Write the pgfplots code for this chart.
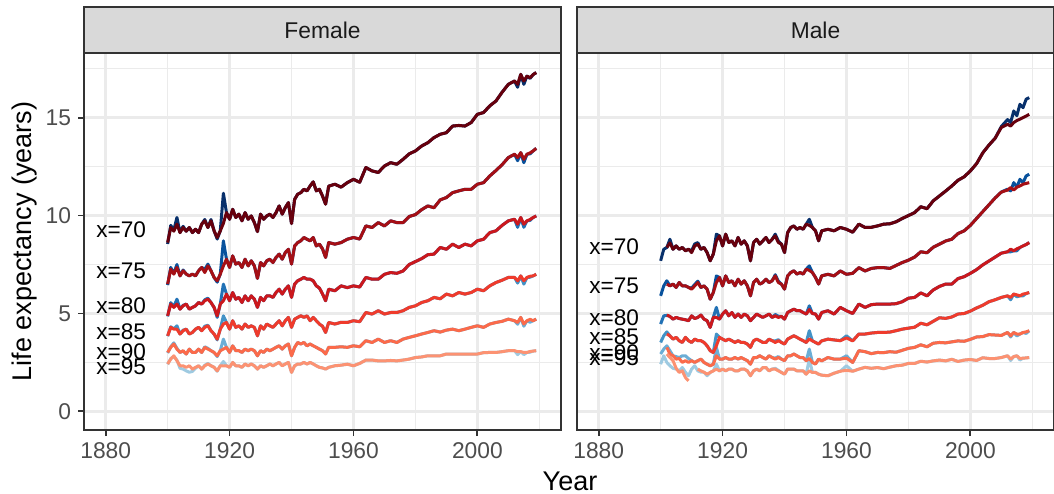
\documentclass[border=0pt]{standalone}
\usepackage{fontspec}
\setmainfont{Liberation Sans}
\usepackage{pgfplots}
\usepackage{pgfplotstable}
\pgfplotsset{compat=1.18}

% Blues / Reds ramps, one shade per age
\definecolor{bA}{HTML}{08306B}\definecolor{rA}{HTML}{67000D}
\definecolor{bB}{HTML}{08519C}\definecolor{rB}{HTML}{A50F15}
\definecolor{bC}{HTML}{2171B5}\definecolor{rC}{HTML}{CB181D}
\definecolor{bD}{HTML}{4292C6}\definecolor{rD}{HTML}{EF3B2C}
\definecolor{bE}{HTML}{6BAED6}\definecolor{rE}{HTML}{FB6A4A}
\definecolor{bF}{HTML}{9ECAE1}\definecolor{rF}{HTML}{FC9272}
\definecolor{gridc}{HTML}{EBEBEB}
\definecolor{frame}{HTML}{333333}
\definecolor{ticktext}{HTML}{4D4D4D}
\definecolor{stripfill}{HTML}{D9D9D9}
\definecolor{striptext}{HTML}{1A1A1A}

\newcommand\ticksize{\fontsize{11.4}{13}\selectfont}
\newcommand\titlesize{\fontsize{13.5}{16}\selectfont}
\newcommand\labsize{\fontsize{11.3}{13}\selectfont}

% columns: year, then observed (b) and fitted (r) remaining life expectancy at ages 70..95
\pgfplotstableread{
year b70 r70 b75 r75 b80 r80 b85 r85 b90 r90 b95 r95
1900 8.55 8.62 6.45 6.50 4.85 4.88 3.84 3.86 2.98 3.01 2.40 2.42
1901 9.50 9.39 7.35 7.26 5.55 5.48 4.32 4.29 3.30 3.27 2.70 2.67
1902 9.25 9.20 7.05 7.01 5.35 5.31 4.22 4.20 3.50 3.44 2.80 2.84
1903 9.90 9.56 7.50 7.35 5.73 5.48 4.37 4.20 3.22 3.18 2.62 2.59
1904 9.13 9.13 6.92 6.92 5.22 5.22 3.95 3.95 3.01 3.01 2.20 2.33
1905 9.45 9.39 7.22 7.18 5.42 5.39 4.15 4.12 3.08 3.10 2.16 2.33
1906 9.20 9.20 7.01 7.01 5.48 5.48 4.20 4.20 2.93 2.93 2.07 2.25
1907 9.39 9.39 6.92 6.92 5.22 5.22 3.95 3.95 3.18 3.18 2.00 2.33
1908 9.13 9.13 7.01 7.01 5.31 5.31 4.03 4.03 3.01 3.01 2.04 2.16
1909 9.30 9.30 6.92 6.92 5.39 5.39 4.20 4.20 3.01 3.01 2.20 2.25
1910 9.13 9.13 7.18 7.18 5.56 5.56 4.29 4.29 3.18 3.18 2.33 2.33
1911 9.56 9.56 7.35 7.35 5.48 5.48 4.12 4.12 3.01 3.01 2.16 2.16
1912 9.80 9.73 7.25 7.09 5.70 5.65 4.35 4.29 3.30 3.27 2.36 2.33
1913 9.39 9.39 7.52 7.43 5.78 5.73 4.40 4.37 3.22 3.18 2.45 2.42
1914 9.80 9.73 7.18 7.18 5.56 5.56 4.12 4.12 3.10 3.10 2.33 2.33
1915 9.22 9.22 6.84 6.84 5.31 5.31 3.95 3.95 3.01 3.01 2.25 2.25
1916 8.80 8.88 6.60 6.67 4.80 4.88 3.65 3.69 2.80 2.84 2.05 2.07
1917 9.22 9.22 7.01 7.01 5.48 5.48 4.20 4.20 3.10 3.10 2.33 2.33
1918 11.14 9.60 8.71 7.43 6.50 5.65 4.88 4.46 3.69 3.18 2.55 2.33
1919 10.15 10.15 7.77 7.77 5.99 5.99 4.54 4.54 3.27 3.27 2.33 2.33
1920 9.81 9.81 7.35 7.35 5.65 5.65 4.20 4.20 3.01 3.01 2.25 2.25
1921 10.32 10.32 7.94 7.94 6.07 6.07 4.63 4.63 3.35 3.35 2.50 2.50
1922 9.90 9.90 7.52 7.52 5.73 5.73 4.29 4.29 3.10 3.10 2.33 2.33
1923 10.07 10.07 7.60 7.60 5.82 5.82 4.37 4.37 3.10 3.10 2.33 2.33
1924 9.73 9.73 7.35 7.35 5.56 5.56 4.20 4.20 3.01 3.01 2.25 2.25
1925 10.15 10.15 7.77 7.77 5.90 5.90 4.46 4.46 3.18 3.18 2.42 2.42
1926 9.81 9.81 7.43 7.43 5.65 5.65 4.29 4.29 3.10 3.10 2.33 2.33
1927 9.98 9.98 7.69 7.69 5.90 5.90 4.37 4.37 3.18 3.18 2.42 2.42
1928 9.64 9.64 7.43 7.43 5.73 5.73 4.29 4.29 3.10 3.10 2.33 2.33
1929 9.18 9.18 6.79 6.79 5.31 5.31 3.86 3.86 2.84 2.84 2.16 2.16
1930 10.07 10.07 7.60 7.60 5.82 5.82 4.37 4.37 3.10 3.10 2.33 2.33
1931 9.81 9.81 7.43 7.43 5.65 5.65 4.20 4.20 3.01 3.01 2.25 2.25
1932 9.98 9.98 7.69 7.69 5.90 5.90 4.46 4.46 3.18 3.18 2.33 2.33
1933 10.07 10.07 7.77 7.77 5.90 5.90 4.37 4.37 3.10 3.10 2.42 2.42
1934 9.90 9.90 7.60 7.60 5.82 5.82 4.29 4.29 3.18 3.18 2.33 2.33
1935 10.15 10.15 7.86 7.86 6.07 6.07 4.46 4.46 3.27 3.27 2.42 2.42
1936 10.49 10.49 8.03 8.03 6.24 6.24 4.63 4.63 3.35 3.35 2.50 2.50
1937 10.07 10.07 7.77 7.77 5.99 5.99 4.37 4.37 3.18 3.18 2.33 2.33
1938 10.41 10.41 8.11 8.11 6.24 6.24 4.63 4.63 3.35 3.35 2.42 2.42
1939 10.66 10.66 8.28 8.28 6.41 6.41 4.80 4.80 3.44 3.44 2.50 2.50
1940 9.59 9.59 7.52 7.52 5.82 5.82 4.29 4.29 2.84 2.84 1.99 1.99
1941 10.83 10.83 8.45 8.45 6.50 6.50 4.71 4.71 3.27 3.27 2.33 2.33
1942 11.09 11.09 8.62 8.62 6.67 6.67 4.80 4.80 3.52 3.52 2.42 2.42
1943 11.17 11.17 8.71 8.71 6.75 6.75 4.88 4.88 3.44 3.44 2.42 2.42
1944 11.34 11.34 8.88 8.88 6.84 6.84 4.80 4.80 3.52 3.52 2.50 2.50
1945 11.26 11.26 8.79 8.79 6.75 6.75 4.88 4.88 3.35 3.35 2.42 2.42
1946 11.51 11.51 8.71 8.71 6.75 6.75 4.63 4.63 3.44 3.44 2.50 2.50
1947 11.72 11.72 8.88 8.88 6.67 6.67 4.80 4.80 3.35 3.35 2.42 2.42
1948 11.26 11.26 8.45 8.45 6.41 6.41 4.63 4.63 3.27 3.27 2.33 2.33
1949 11.34 11.34 8.54 8.54 6.30 6.30 4.46 4.46 3.18 3.18 2.25 2.25
1950 11.00 11.00 8.30 8.30 6.00 6.00 4.35 4.35 3.10 3.10 2.22 2.22
1951 10.58 10.58 7.86 7.86 5.65 5.65 4.03 4.03 2.93 2.93 2.16 2.16
1952 11.50 11.50 8.62 8.62 6.24 6.24 4.54 4.54 3.27 3.27 2.25 2.25
1954 11.60 11.60 8.54 8.54 6.16 6.16 4.46 4.46 3.27 3.27 2.33 2.33
1956 11.45 11.45 8.62 8.62 6.41 6.41 4.55 4.55 3.30 3.30 2.36 2.36
1958 11.68 11.68 8.79 8.79 6.32 6.32 4.54 4.54 3.27 3.27 2.41 2.41
1960 11.85 11.85 8.88 8.88 6.41 6.41 4.63 4.63 3.35 3.35 2.33 2.33
1962 11.70 11.70 8.80 8.80 6.35 6.35 4.58 4.58 3.30 3.30 2.45 2.45
1964 12.45 12.45 9.47 9.47 6.84 6.84 5.05 5.05 3.61 3.61 2.62 2.62
1966 12.28 12.28 9.39 9.39 6.75 6.75 4.97 4.97 3.52 3.52 2.62 2.62
1968 12.20 12.20 9.64 9.64 6.75 6.75 5.14 5.14 3.69 3.69 2.58 2.58
1970 12.53 12.53 9.47 9.47 7.00 7.00 4.97 4.97 3.52 3.52 2.58 2.58
1972 12.70 12.70 9.73 9.73 7.09 7.09 5.05 5.05 3.61 3.61 2.60 2.60
1974 12.62 12.62 9.64 9.64 7.05 7.05 5.05 5.05 3.52 3.52 2.58 2.58
1976 12.87 12.87 9.64 9.64 7.17 7.17 5.14 5.14 3.69 3.69 2.62 2.62
1978 13.15 13.15 9.95 9.95 7.50 7.50 5.31 5.31 3.78 3.78 2.67 2.67
1980 13.30 13.30 10.05 10.05 7.65 7.65 5.39 5.39 3.86 3.86 2.75 2.75
1982 13.55 13.55 10.30 10.30 7.80 7.80 5.56 5.56 3.95 3.95 2.78 2.78
1984 13.72 13.72 10.49 10.49 8.00 8.00 5.65 5.65 4.03 4.03 2.84 2.84
1986 13.98 13.98 10.40 10.40 8.03 8.03 5.82 5.82 4.12 4.12 2.84 2.84
1988 14.15 14.15 10.80 10.80 8.37 8.37 5.75 5.75 4.05 4.05 2.84 2.84
1990 14.23 14.23 10.92 10.92 8.28 8.28 5.99 5.99 4.15 4.15 2.93 2.93
1992 14.57 14.57 11.17 11.17 8.54 8.54 5.90 5.90 4.20 4.20 2.93 2.93
1994 14.60 14.60 11.26 11.26 8.37 8.37 6.07 6.07 4.12 4.12 2.93 2.93
1996 14.57 14.57 11.34 11.34 8.54 8.54 5.99 5.99 4.20 4.20 2.93 2.93
1998 14.75 14.75 11.34 11.34 8.45 8.45 6.07 6.07 4.29 4.29 2.93 2.93
2000 15.17 15.17 11.60 11.60 8.71 8.71 6.24 6.24 4.37 4.37 2.93 2.93
2002 15.26 15.26 11.68 11.68 8.79 8.79 6.16 6.16 4.29 4.29 3.00 3.00
2004 15.60 15.60 12.02 12.02 9.13 9.13 6.41 6.41 4.46 4.46 3.01 3.01
2006 15.85 15.85 12.30 12.30 9.22 9.22 6.58 6.58 4.54 4.54 3.01 3.01
2008 16.30 16.30 12.60 12.60 9.50 9.50 6.70 6.70 4.60 4.60 3.05 3.05
2010 16.70 16.70 12.96 12.96 9.73 9.73 6.84 6.84 4.71 4.71 3.10 3.10
2012 16.87 16.87 13.13 13.13 9.81 9.81 6.84 6.84 4.63 4.63 3.10 3.10
2013 16.55 16.70 12.80 12.96 9.40 9.56 6.55 6.67 4.45 4.54 2.90 3.05
2014 17.21 17.21 13.21 13.21 9.90 9.90 6.92 6.92 4.80 4.80 3.05 3.05
2015 16.70 16.87 12.70 12.87 9.40 9.56 6.50 6.67 4.35 4.46 2.90 3.01
2016 17.12 17.12 13.13 13.13 9.73 9.73 6.84 6.84 4.63 4.63 3.01 3.01
2017 17.00 17.04 13.15 13.20 9.75 9.80 6.85 6.90 4.55 4.70 3.02 3.06
2018 17.20 17.20 13.30 13.30 9.90 9.90 6.92 6.92 4.63 4.63 3.08 3.08
2019 17.30 17.30 13.43 13.43 9.98 9.98 7.00 7.00 4.71 4.71 3.10 3.10
}\femaletab

\pgfplotstableread{
year b70 r70 b75 r75 b80 r80 b85 r85 b90 r90 b95 r95
1900 7.69 nan 5.90 nan 4.46 nan 3.52 nan 2.93 nan 2.41 nan
1901 8.28 nan 6.41 nan 4.88 nan 3.86 nan 3.18 nan 2.84 nan
1902 8.37 8.37 6.67 6.50 4.90 4.92 4.06 3.95 3.35 3.27 2.50 2.93
1903 8.79 8.60 6.41 6.41 4.85 4.85 3.86 3.86 3.10 2.93 2.33 2.75
1904 8.28 8.28 6.50 6.50 4.71 4.71 3.69 3.69 2.84 2.84 2.20 2.59
1905 8.45 8.45 6.33 6.33 4.80 4.80 3.78 3.78 2.80 2.67 2.16 2.20
1906 8.28 8.28 6.58 6.58 4.74 4.74 3.61 3.61 2.75 2.70 2.07 1.99
1907 8.37 8.37 6.41 6.41 4.71 4.71 3.52 3.52 2.84 2.50 2.24 2.07
1908 8.20 8.20 6.41 6.41 4.68 4.68 3.78 3.78 2.84 2.59 2.00 1.73
1909 8.28 8.28 6.33 6.33 4.63 4.63 3.61 3.61 2.70 2.50 1.82 1.56
1910 8.20 8.11 6.30 6.24 4.88 4.88 3.52 3.52 2.59 2.59 2.16 nan
1911 8.55 8.45 6.48 6.41 4.74 4.74 3.69 3.69 2.50 2.50 2.33 nan
1912 8.62 8.54 6.65 6.58 4.80 4.80 3.61 3.61 2.59 2.59 2.07 2.16
1913 8.28 8.28 6.33 6.33 4.92 4.92 3.61 3.61 2.67 2.67 2.00 2.07
1914 8.37 8.37 6.41 6.41 4.71 4.71 3.52 3.52 2.50 2.50 2.00 2.00
1915 8.11 8.11 6.24 6.24 4.63 4.63 3.35 3.35 2.41 2.41 1.82 1.90
1916 7.69 7.69 5.73 5.73 4.29 4.29 3.10 3.10 2.33 2.33 1.99 1.99
1917 8.03 8.03 6.07 6.07 4.80 4.80 3.01 3.01 2.41 2.41 2.07 2.07
1918 9.05 8.71 6.92 6.58 5.31 4.80 3.95 3.35 3.27 2.84 2.41 2.16
1919 8.96 8.96 6.84 6.84 4.71 4.71 3.78 3.78 2.67 2.67 2.07 2.07
1920 8.45 8.45 6.41 6.41 4.97 4.97 3.69 3.69 2.67 2.67 2.16 2.16
1921 9.05 9.05 6.92 6.92 5.14 5.14 3.61 3.61 2.75 2.75 2.07 2.07
1922 8.62 8.62 6.58 6.58 4.88 4.88 3.69 3.69 2.67 2.67 2.16 2.16
1923 8.71 8.71 6.67 6.67 5.05 5.05 3.61 3.61 2.67 2.67 2.16 2.16
1924 8.45 8.45 6.41 6.41 4.80 4.80 3.52 3.52 2.75 2.75 2.07 2.07
1925 8.88 8.88 6.75 6.75 4.97 4.97 3.61 3.61 2.67 2.67 2.07 2.07
1926 8.54 8.54 6.50 6.50 4.80 4.80 3.52 3.52 2.75 2.75 2.16 2.16
1927 8.71 8.71 6.67 6.67 4.97 4.97 3.52 3.52 2.67 2.67 2.16 2.16
1928 8.45 8.45 6.41 6.41 4.88 4.88 3.44 3.44 2.59 2.59 2.07 2.07
1929 7.69 7.69 5.90 5.90 4.63 4.63 3.27 3.27 2.41 2.41 1.82 1.82
1930 8.62 8.62 6.58 6.58 4.80 4.80 3.61 3.61 2.75 2.75 2.07 2.07
1931 8.79 8.79 6.75 6.75 4.97 4.97 3.69 3.69 2.75 2.75 2.16 2.16
1932 8.54 8.54 6.50 6.50 4.88 4.88 3.61 3.61 2.84 2.84 2.07 2.07
1933 8.71 8.71 6.58 6.58 4.80 4.80 3.52 3.52 2.75 2.75 2.24 2.24
1934 8.88 8.88 6.75 6.75 4.88 4.88 3.52 3.52 2.67 2.67 2.24 2.24
1935 8.62 8.62 6.58 6.58 4.97 4.97 3.69 3.69 2.84 2.84 2.07 2.07
1936 8.79 8.79 6.67 6.67 4.80 4.80 3.61 3.61 2.75 2.75 2.16 2.16
1937 9.05 8.96 6.98 6.92 4.95 4.88 3.60 3.52 2.72 2.67 2.20 2.16
1938 8.70 8.62 6.65 6.58 4.86 4.80 3.66 3.61 2.80 2.75 2.10 2.07
1939 8.54 8.54 6.50 6.50 4.85 4.85 3.52 3.52 2.67 2.67 1.99 1.99
1940 8.11 8.11 6.24 6.24 4.71 4.71 3.44 3.44 2.59 2.59 1.90 1.90
1941 9.13 9.13 6.92 6.92 5.05 5.05 3.69 3.69 2.84 2.84 2.16 2.16
1942 9.39 9.39 7.09 7.09 5.14 5.14 3.78 3.78 2.84 2.84 2.16 2.16
1943 9.47 9.47 7.18 7.18 5.22 5.22 3.86 3.86 2.93 2.93 2.16 2.16
1944 9.30 9.30 7.01 7.01 5.14 5.14 3.78 3.78 2.84 2.84 2.07 2.07
1945 9.39 9.39 7.09 7.09 5.14 5.14 3.69 3.69 2.75 2.75 2.07 2.07
1946 9.30 9.30 7.01 7.01 5.05 5.05 3.61 3.61 2.75 2.75 2.07 2.07
1947 9.56 9.56 7.26 7.26 4.97 4.97 3.52 3.52 2.59 2.59 1.90 1.90
1948 9.81 9.50 7.43 7.20 5.39 5.20 4.12 3.70 3.18 2.70 2.67 2.07
1949 9.39 9.39 7.09 7.09 5.00 5.00 3.60 3.60 2.50 2.50 1.99 1.99
1950 9.22 9.22 6.84 6.84 4.97 4.97 3.52 3.52 2.42 2.42 1.99 1.99
1951 8.71 8.71 6.50 6.50 4.71 4.71 3.44 3.44 2.67 2.67 1.90 1.90
1952 9.22 9.22 6.92 6.92 5.05 5.05 3.60 3.60 2.58 2.58 1.85 1.85
1954 9.30 9.30 7.00 7.00 5.14 5.14 3.69 3.69 2.75 2.75 1.82 1.82
1956 9.22 9.22 6.92 6.92 4.97 4.97 3.65 3.65 2.67 2.67 1.95 1.95
1958 9.39 9.39 7.17 7.17 5.31 5.31 3.61 3.61 2.67 2.67 2.05 2.05
1960 9.30 9.30 7.00 7.00 5.14 5.14 3.86 3.75 2.84 2.72 2.33 2.10
1962 9.15 9.15 7.05 7.05 5.00 5.00 3.60 3.60 2.50 2.50 2.05 2.05
1964 9.56 9.56 7.34 7.34 5.48 5.48 3.95 3.95 3.10 3.10 2.16 2.16
1966 9.39 9.39 7.17 7.17 5.31 5.31 3.95 3.95 3.05 3.05 2.25 2.25
1968 9.40 9.40 7.30 7.30 5.45 5.45 4.00 4.00 2.95 2.95 2.20 2.20
1970 9.47 9.47 7.34 7.34 5.48 5.48 4.03 4.03 3.01 3.01 2.24 2.24
1972 9.56 9.56 7.34 7.34 5.48 5.48 4.03 4.03 3.00 3.00 2.18 2.18
1974 9.58 9.58 7.30 7.30 5.48 5.48 4.05 4.05 3.05 3.05 2.26 2.26
1976 9.68 9.68 7.45 7.45 5.50 5.50 4.12 4.12 3.02 3.02 2.33 2.33
1978 9.85 9.85 7.60 7.60 5.60 5.60 4.20 4.20 3.12 3.12 2.36 2.36
1980 10.00 10.00 7.72 7.72 5.78 5.78 4.25 4.25 3.22 3.22 2.45 2.45
1982 10.15 10.15 7.88 7.88 5.82 5.82 4.30 4.30 3.27 3.27 2.45 2.45
1984 10.45 10.45 8.15 8.15 6.05 6.05 4.50 4.50 3.40 3.40 2.56 2.56
1986 10.35 10.35 8.10 8.10 5.90 5.90 4.42 4.42 3.30 3.30 2.52 2.52
1988 10.75 10.75 8.38 8.38 6.20 6.20 4.60 4.60 3.48 3.48 2.58 2.58
1990 11.00 11.00 8.54 8.54 6.38 6.38 4.78 4.78 3.52 3.52 2.62 2.62
1992 11.25 11.25 8.70 8.70 6.50 6.50 4.75 4.75 3.50 3.50 2.58 2.58
1994 11.51 11.51 8.79 8.79 6.50 6.50 4.82 4.82 3.55 3.55 2.66 2.66
1996 11.80 11.80 9.08 9.08 6.78 6.78 4.97 4.97 3.60 3.60 2.55 2.55
1998 11.98 11.98 9.22 9.22 6.88 6.88 5.00 5.00 3.58 3.58 2.62 2.62
2000 12.28 12.28 9.50 9.50 7.05 7.05 5.12 5.12 3.68 3.68 2.65 2.65
2002 12.65 12.65 9.85 9.85 7.24 7.24 5.28 5.28 3.80 3.80 2.60 2.60
2004 13.20 13.20 10.20 10.20 7.48 7.48 5.42 5.42 3.82 3.82 2.74 2.74
2006 13.60 13.60 10.55 10.55 7.68 7.68 5.60 5.60 3.92 3.92 2.70 2.70
2008 13.95 13.95 10.90 10.90 7.88 7.88 5.70 5.70 3.90 3.90 2.70 2.70
2010 14.55 14.50 11.20 11.20 8.08 8.08 5.82 5.82 3.88 3.88 2.75 2.75
2012 14.90 14.66 11.35 11.30 8.15 8.15 5.90 5.90 4.03 4.03 2.84 2.84
2013 14.75 14.57 11.26 11.43 8.15 8.28 5.70 5.82 3.80 3.86 2.60 2.67
2014 15.34 14.75 11.68 11.30 8.20 8.20 5.99 5.99 4.03 4.03 2.80 2.80
2015 15.10 14.85 11.45 11.45 8.20 8.30 5.85 5.95 3.85 3.95 2.84 2.84
2016 15.68 14.92 11.85 11.51 8.37 8.37 5.90 5.90 3.95 3.95 2.62 2.70
2017 15.51 15.00 11.68 11.60 8.45 8.45 5.90 5.99 4.03 4.03 2.72 2.72
2018 15.94 15.08 12.02 11.64 8.52 8.52 6.02 6.02 3.98 4.06 2.73 2.73
2019 16.02 15.17 12.11 11.68 8.62 8.62 6.07 6.07 4.12 4.12 2.75 2.75
}\maletab

\pgfplotsset{
  panel/.style={
    scale only axis, width=238.5pt, height=188.5pt,
    xmin=1873, xmax=2027, ymin=-0.95, ymax=18.3,
    xtick={1880,1920,1960,2000}, minor xtick={1900,1940,1980,2020},
    ytick={0,5,10,15}, minor ytick={2.5,7.5,12.5,17.5},
    grid=both,
    major grid style={draw=gridc, line width=1.25pt},
    minor grid style={draw=gridc, line width=0.65pt},
    axis line style={draw=frame, line width=0.9pt},
    tick align=outside, tick pos=left,
    major tick length=3pt, minor tick length=0pt,
    tick style={draw=frame, line width=0.9pt},
    ticklabel style={font=\ticksize, text=ticktext},
    /pgf/number format/assume math mode=true,
    /pgf/number format/1000 sep={},
    unbounded coords=jump,
    every axis plot/.append style={line width=1.5pt, line join=round, no marks},
  },
}
\tikzset{age/.style={font=\labsize, text=black, inner sep=0pt}}

\begin{document}
\begin{tikzpicture}
\useasboundingbox (0,0) rectangle (527pt,246.5pt);

% ---- Female panel ----
\begin{axis}[panel, name=F, at={(42pt,31.5pt)}, anchor=south west]
  \addplot[bA] table[x=year, y=b70] {\femaletab};
  \addplot[bB] table[x=year, y=b75] {\femaletab};
  \addplot[bC] table[x=year, y=b80] {\femaletab};
  \addplot[bD] table[x=year, y=b85] {\femaletab};
  \addplot[bE] table[x=year, y=b90] {\femaletab};
  \addplot[bF] table[x=year, y=b95] {\femaletab};
  \addplot[rA] table[x=year, y=r70] {\femaletab};
  \addplot[rB] table[x=year, y=r75] {\femaletab};
  \addplot[rC] table[x=year, y=r80] {\femaletab};
  \addplot[rD] table[x=year, y=r85] {\femaletab};
  \addplot[rE] table[x=year, y=r90] {\femaletab};
  \addplot[rF] table[x=year, y=r95] {\femaletab};
  \node[age] at (axis cs:1885,9.30) {x=70};
  \node[age] at (axis cs:1885,7.20) {x=75};
  \node[age] at (axis cs:1885,5.40) {x=80};
  \node[age] at (axis cs:1885,4.07) {x=85};
  \node[age] at (axis cs:1885,3.05) {x=90};
  \node[age] at (axis cs:1885,2.30) {x=95};
\end{axis}

% ---- Male panel ----
\begin{axis}[panel, name=M, at={(288.5pt,31.5pt)}, anchor=south west,
    yticklabels={}, ytick style={draw=none}]
  \addplot[bA] table[x=year, y=b70] {\maletab};
  \addplot[bB] table[x=year, y=b75] {\maletab};
  \addplot[bC] table[x=year, y=b80] {\maletab};
  \addplot[bD] table[x=year, y=b85] {\maletab};
  \addplot[bE] table[x=year, y=b90] {\maletab};
  \addplot[bF] table[x=year, y=b95] {\maletab};
  \addplot[rA] table[x=year, y=r70] {\maletab};
  \addplot[rB] table[x=year, y=r75] {\maletab};
  \addplot[rC] table[x=year, y=r80] {\maletab};
  \addplot[rD] table[x=year, y=r85] {\maletab};
  \addplot[rE] table[x=year, y=r90] {\maletab};
  \addplot[rF] table[x=year, y=r95] {\maletab};
  \node[age] at (axis cs:1885,8.40) {x=70};
  \node[age] at (axis cs:1885,6.40) {x=75};
  \node[age] at (axis cs:1885,4.80) {x=80};
  \node[age] at (axis cs:1885,3.82) {x=85};
  \node[age] at (axis cs:1885,3.00) {x=90};
  \node[age] at (axis cs:1885,2.75) {x=95};
\end{axis}

% ---- facet strips ----
\foreach \p/\t in {F/Female, M/Male}{
  \draw[fill=stripfill, draw=frame, line width=0.9pt]
    (\p.north west) rectangle ([yshift=23pt]\p.north east);
  \node[font=\ticksize, text=striptext] at ([yshift=11.5pt]\p.north) {\t};
}

% ---- axis titles ----
\node[rotate=90, font=\titlesize] at (12.5pt,125.75pt) {Life expectancy (years)};
\node[font=\titlesize, anchor=base, inner sep=0pt] at (285pt,1.5pt) {Year};
\end{tikzpicture}
\end{document}
